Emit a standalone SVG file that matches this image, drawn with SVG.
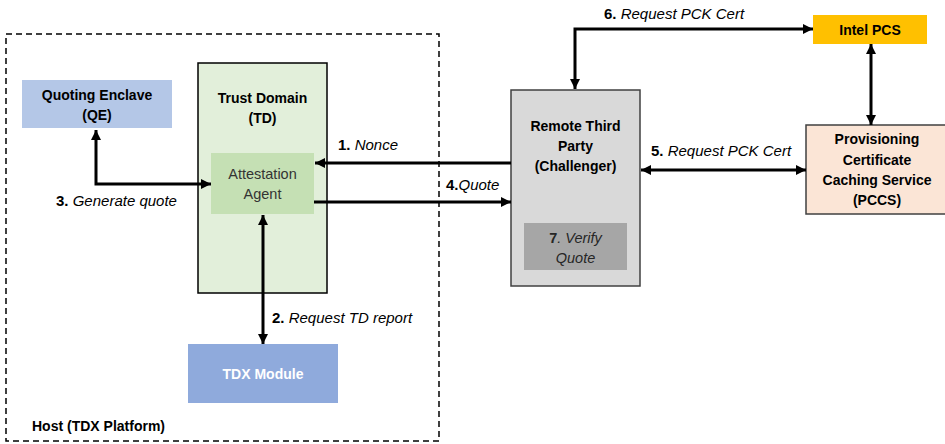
<svg xmlns="http://www.w3.org/2000/svg" width="945" height="444" viewBox="0 0 945 444">
<style>
text{font-family:"Liberation Sans",Arial,sans-serif;font-size:14px;fill:#000}
.b{font-weight:bold}
.c{text-anchor:middle}
.i{font-style:italic}
.lbl{font-size:15px}
.conn{fill:none;stroke:#000;stroke-width:3}
</style>
<defs>
<marker id="ah" markerUnits="userSpaceOnUse" markerWidth="10" markerHeight="10" refX="10" refY="5" orient="auto-start-reverse">
<path d="M0,0 L10,5 L0,10 z" fill="#000"/>
</marker>
</defs>
<rect width="945" height="444" fill="#fff"/>
<g id="host">
<rect x="6" y="34" width="433" height="407" fill="none" stroke="#000" stroke-width="1.5" stroke-dasharray="6,4"/>
<text x="32" y="431" class="b">Host (TDX Platform)</text>
</g>
<g id="qe">
<rect x="22" y="80" width="150" height="48" fill="#b4c7e7"/>
<text x="97" y="100" class="b c">Quoting Enclave</text>
<text x="97" y="120" class="b c">(QE)</text>
</g>
<g id="td">
<rect x="198" y="63" width="129" height="230" fill="#e2efda" stroke="#000" stroke-width="1.5"/>
<text x="262.5" y="103" class="b c">Trust Domain</text>
<text x="262.5" y="123" class="b c">(TD)</text>
</g>
<g id="agent">
<rect x="211" y="153" width="103" height="61" fill="#c5e0b4"/>
<text x="262.5" y="179" class="c" style="fill:#333;font-size:14.5px">Attestation</text>
<text x="262.5" y="199" class="c" style="fill:#333;font-size:14.5px">Agent</text>
</g>
<g id="tdx">
<rect x="188" y="344" width="150" height="59" fill="#8faadc"/>
<text x="263" y="379" class="b c" style="fill:#fff">TDX Module</text>
</g>
<g id="rtp">
<rect x="511" y="90" width="129" height="196" fill="#d9d9d9" stroke="#404040" stroke-width="1.5"/>
<text x="575.5" y="131" class="b c">Remote Third</text>
<text x="575.5" y="151" class="b c">Party</text>
<text x="575.5" y="171" class="b c">(Challenger)</text>
</g>
<g id="verify">
<rect x="524" y="223" width="103" height="47" fill="#a6a6a6"/>
<text x="575.5" y="243" class="c" style="fill:#262626;font-size:14.5px"><tspan class="b">7</tspan><tspan class="i">. Verify</tspan></text>
<text x="575.5" y="263" class="c i" style="fill:#262626;font-size:14.5px">Quote</text>
</g>
<g id="intelpcs">
<rect x="813" y="15" width="114" height="29" fill="#ffc000"/>
<text x="870" y="35" class="b c">Intel PCS</text>
</g>
<g id="pccs">
<rect x="806" y="125" width="141" height="89" fill="#fbe5d6" stroke="#404040" stroke-width="1.5"/>
<text x="877" y="144" class="b c">Provisioning</text>
<text x="877" y="165" class="b c">Certificate</text>
<text x="877" y="185" class="b c">Caching Service</text>
<text x="877" y="205" class="b c">(PCCS)</text>
</g>
<g id="connectors">
<line class="conn" x1="511" y1="163" x2="315" y2="163" marker-end="url(#ah)"/>
<line class="conn" x1="314" y1="202" x2="511" y2="202" marker-end="url(#ah)"/>
<path class="conn" d="M96,130 V184 H211" marker-start="url(#ah)" marker-end="url(#ah)"/>
<line class="conn" x1="263" y1="215" x2="263" y2="344" marker-start="url(#ah)" marker-end="url(#ah)"/>
<path class="conn" d="M575,89 V29 H813" marker-start="url(#ah)" marker-end="url(#ah)"/>
<line class="conn" x1="871" y1="44" x2="871" y2="125" marker-start="url(#ah)" marker-end="url(#ah)"/>
<line class="conn" x1="641" y1="170" x2="806" y2="170" marker-start="url(#ah)" marker-end="url(#ah)"/>
<text x="338" y="150" class="lbl"><tspan class="b">1.</tspan> <tspan class="i">Nonce</tspan></text>
<text x="56" y="206" class="lbl"><tspan class="b">3.</tspan> <tspan class="i">Generate quote</tspan></text>
<text x="446" y="190" class="lbl"><tspan class="b">4.</tspan><tspan class="i">Quote</tspan></text>
<text x="272" y="323" class="lbl"><tspan class="b">2.</tspan> <tspan class="i">Request TD report</tspan></text>
<text x="604" y="19" class="lbl"><tspan class="b">6.</tspan> <tspan class="i">Request PCK Cert</tspan></text>
<text x="651" y="156" class="lbl"><tspan class="b">5.</tspan> <tspan class="i">Request PCK Cert</tspan></text>
</g>
</svg>
